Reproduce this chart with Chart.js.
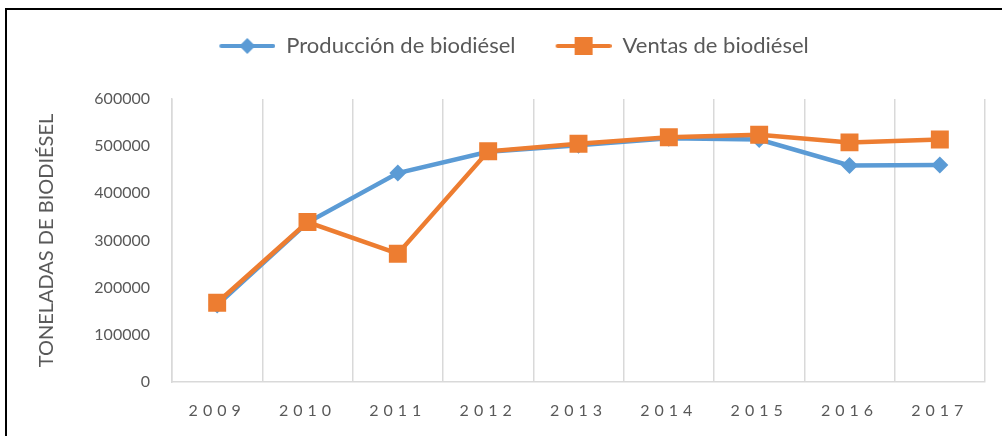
<!DOCTYPE html>
<html>
<head>
<meta charset="utf-8">
<script src="https://cdn.jsdelivr.net/npm/chart.js@4/dist/chart.umd.min.js"></script>
<style>
  body { margin: 0; background: #fff; overflow: hidden; }
  #frame { position: absolute; left: 5px; top: 8px; width: 1100px; height: 500px;
           border-left: 2px solid #000; border-top: 2px solid #000; }
  #wrap { position: absolute; left: 0; top: 0; width: 1002px; height: 436px; }
</style>
</head>
<body>
<div id="frame"></div>
<div id="wrap"><canvas id="chart"></canvas></div>
<script>
const years = ["2009", "2010", "2011", "2012", "2013", "2014", "2015", "2016", "2017"];
const produccion = [163000, 338000, 443000, 488000, 502000, 517000, 514000, 459000, 460000];
const ventas = [168000, 339000, 272000, 489000, 505000, 519000, 524000, 508000, 514000];
const yMin = 0, yMax = 600000, yStep = 100000;

const blue = '#5B9BD5';
const orange = '#ED7D31';
const grey = '#595959';

// legend icon: line with marker in the middle (left part transparent as spacing)
function legendIcon(color, shape) {
    const c = document.createElement('canvas');
    c.width = 86;
    c.height = 20;
    const g = c.getContext('2d');
    g.strokeStyle = color;
    g.lineWidth = 4;
    g.lineCap = 'round';
    g.beginPath();
    g.moveTo(32, 10);
    g.lineTo(84, 10);
    g.stroke();
    g.fillStyle = color;
    if (shape === 'diamond') {
        g.beginPath();
        g.moveTo(58, 2);
        g.lineTo(66, 10);
        g.lineTo(58, 18);
        g.lineTo(50, 10);
        g.closePath();
        g.fill();
    } else {
        g.fillRect(49, 1, 18, 18);
    }
    return c;
}
const icons = [legendIcon(blue, 'diamond'), legendIcon(orange, 'square')];

// extra room under the legend, letter spaced year labels
const tweaks = {
    id: 'tweaks',
    beforeInit(chart) {
        const lg = chart.legend;
        const fit = lg.fit;
        lg.fit = function () {
            fit.call(lg);
            lg.height += 32;
        };
    },
    beforeDraw(chart) {
        const xs = chart.scales.x;
        if (!xs._spaced) {
            const draw = xs.drawLabels;
            xs.drawLabels = function (area) {
                this.ctx.save();
                this.ctx.letterSpacing = '5px';
                draw.call(this, area);
                this.ctx.restore();
            };
            xs._spaced = true;
        }
    }
};

const ctx = document.getElementById('chart');
new Chart(ctx, {
    type: 'line',
    data: {
        labels: years,
        datasets: [{
            label: 'Producción de biodiésel',
            data: produccion,
            borderColor: blue,
            backgroundColor: blue,
            borderWidth: 4.5,
            pointStyle: 'rectRot',
            pointRadius: 8.5,
            pointBorderWidth: 0,
            order: 1
        }, {
            label: 'Ventas de biodiésel',
            data: ventas,
            borderColor: orange,
            backgroundColor: orange,
            borderWidth: 4.5,
            pointStyle: 'rect',
            pointRadius: 12.7,
            pointBorderWidth: 0,
            order: 0
        }]
    },
    options: {
        responsive: true,
        maintainAspectRatio: false,
        animation: false,
        layout: {
            padding: { left: 13, right: 17, top: 25, bottom: 0 }
        },
        scales: {
            x: {
                offset: true,
                grid: { display: true, offset: true, color: '#D9D9D9', lineWidth: 1.5, drawTicks: false },
                border: { display: true, color: '#D9D9D9', width: 1.5 },
                ticks: { color: grey, padding: 19, font: { family: 'Lato', size: 16 } },
                afterFit(scale) { scale.height = 54; }
            },
            y: {
                min: yMin,
                max: yMax,
                grid: { display: false, drawTicks: false },
                border: { display: true, color: '#D9D9D9', width: 1.5 },
                ticks: {
                    stepSize: yStep,
                    color: grey,
                    padding: 22,
                    font: { family: 'Lato', size: 16 },
                    callback: (v) => String(v)
                },
                title: {
                    display: true,
                    text: 'TONELADAS DE BIODIÉSEL',
                    color: grey,
                    font: { family: 'Lato', size: 20 },
                    padding: { top: 22, bottom: 0 }
                },
                afterFit(scale) { scale.width = 159; }
            }
        },
        plugins: {
            legend: {
                position: 'top',
                labels: {
                    usePointStyle: true,
                    pointStyleWidth: 86,
                    padding: 10,
                    color: grey,
                    font: { family: 'Lato', size: 22 },
                    generateLabels(chart) {
                        return chart.data.datasets.map((ds, i) => ({
                            text: ds.label,
                            pointStyle: icons[i],
                            fontColor: grey,
                            hidden: false,
                            lineWidth: 0,
                            strokeStyle: 'transparent',
                            fillStyle: 'transparent',
                            datasetIndex: i
                        }));
                    }
                }
            },
            tooltip: { enabled: false }
        }
    },
    plugins: [tweaks]
});
</script>
</body>
</html>
